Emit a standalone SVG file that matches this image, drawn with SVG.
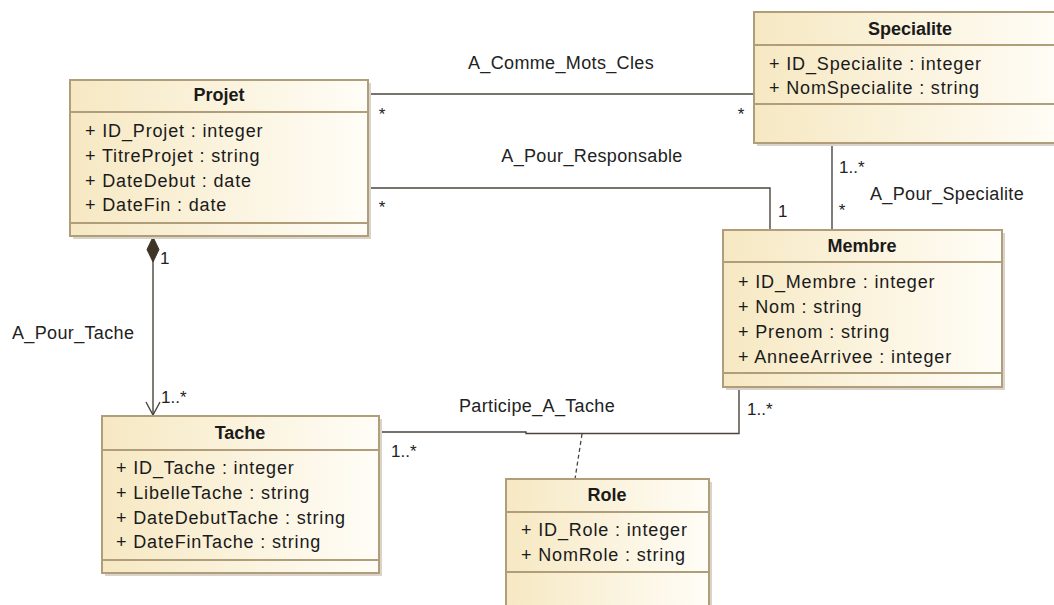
<svg xmlns="http://www.w3.org/2000/svg" width="1054" height="605" viewBox="0 0 1054 605">
<defs>
<linearGradient id="g" x1="0" y1="0" x2="1" y2="0">
<stop offset="0" stop-color="#f6e8c2"/>
<stop offset="1" stop-color="#fffdf7"/>
</linearGradient>
<style>
.box{fill:url(#g);stroke:#b09d7a;stroke-width:2}
.sh{fill:#d9d3c9}
.sep{stroke:#b09d7a;stroke-width:2}
.t{font-family:"Liberation Sans",Arial,sans-serif;font-size:18px;font-weight:bold;fill:#1a1a1a;text-anchor:middle}
.a{font-family:"Liberation Sans",Arial,sans-serif;font-size:18px;fill:#1a1a1a;letter-spacing:0.85px}
.l{font-family:"Liberation Sans",Arial,sans-serif;font-size:18px;fill:#222;letter-spacing:0.35px}
.lm{text-anchor:middle}
.m{font-family:"Liberation Sans",Arial,sans-serif;font-size:17px;fill:#222}
.mm{text-anchor:middle}
.c{fill:none;stroke:#4a443c;stroke-width:1.4}
.d{fill:none;stroke:#4a443c;stroke-width:1.3;stroke-dasharray:4 3}
</style>
</defs>
<rect width="1054" height="605" fill="#ffffff"/>

<g id="connectors">
  <path class="c" d="M370 94 H754"/>
  <path class="c" d="M370 188 H770 V230"/>
  <path class="c" d="M832 143 V230"/>
  <path class="c" d="M153 250 V415"/>
  <path d="M153 237 L159 249.5 L153 262 L147 249.5 Z" fill="#3e3528" stroke="#3e3528" stroke-width="1"/>
  <path class="c" d="M146 402 L153 415 L160 402"/>
  <path class="c" d="M380 432 H526 V433.5 H739 V387"/>
  <path class="d" d="M582 434 L575 479"/>
  <text class="l lm" x="561" y="69">A_Comme_Mots_Cles</text>
  <text class="m mm" x="382" y="120">*</text>
  <text class="m mm" x="741" y="120">*</text>
  <text class="l lm" x="592" y="162">A_Pour_Responsable</text>
  <text class="m mm" x="382" y="213">*</text>
  <text class="m" x="778" y="217">1</text>
  <text class="m" x="839" y="173">1..*</text>
  <text class="m mm" x="842" y="216">*</text>
  <text class="l" x="870" y="200">A_Pour_Specialite</text>
  <text class="m" x="160" y="264">1</text>
  <text class="m" x="161" y="403">1..*</text>
  <text class="l" x="12" y="339">A_Pour_Tache</text>
  <text class="l" x="459" y="412">Participe_A_Tache</text>
  <text class="m" x="391" y="457">1..*</text>
  <text class="m" x="747" y="415">1..*</text>
</g>

<g id="Projet">
  <rect class="sh" x="73" y="83" width="298" height="156"/>
  <rect class="box" x="70" y="80" width="298" height="156"/>
  <line class="sep" x1="70" y1="112" x2="368" y2="112"/>
  <line class="sep" x1="70" y1="223" x2="368" y2="223"/>
  <text class="t" x="219" y="101">Projet</text>
  <text class="a" x="85" y="137">+ ID_Projet : integer</text>
  <text class="a" x="85" y="162">+ TitreProjet : string</text>
  <text class="a" x="85" y="187">+ DateDebut : date</text>
  <text class="a" x="85" y="211">+ DateFin : date</text>
</g>

<g id="Specialite">
  <rect class="sh" x="757" y="15" width="310" height="131"/>
  <rect class="box" x="754" y="12" width="310" height="131"/>
  <line class="sep" x1="754" y1="45" x2="1064" y2="45"/>
  <line class="sep" x1="754" y1="104" x2="1064" y2="104"/>
  <text class="t" x="910" y="35">Specialite</text>
  <text class="a" x="769" y="70">+ ID_Specialite : integer</text>
  <text class="a" x="769" y="94">+ NomSpecialite : string</text>
</g>

<g id="Membre">
  <rect class="sh" x="726" y="233" width="279" height="157"/>
  <rect class="box" x="723" y="230" width="279" height="157"/>
  <line class="sep" x1="723" y1="262" x2="1002" y2="262"/>
  <line class="sep" x1="723" y1="373" x2="1002" y2="373"/>
  <text class="t" x="862" y="252">Membre</text>
  <text class="a" x="738" y="288">+ ID_Membre : integer</text>
  <text class="a" x="738" y="313">+ Nom : string</text>
  <text class="a" x="738" y="338">+ Prenom : string</text>
  <text class="a" x="738" y="363">+ AnneeArrivee : integer</text>
</g>

<g id="Tache">
  <rect class="sh" x="105" y="419" width="277" height="157"/>
  <rect class="box" x="102" y="416" width="277" height="157"/>
  <line class="sep" x1="102" y1="450" x2="379" y2="450"/>
  <line class="sep" x1="102" y1="560" x2="379" y2="560"/>
  <text class="t" x="240" y="439">Tache</text>
  <text class="a" x="116" y="474">+ ID_Tache : integer</text>
  <text class="a" x="116" y="499">+ LibelleTache : string</text>
  <text class="a" x="116" y="524">+ DateDebutTache : string</text>
  <text class="a" x="116" y="548">+ DateFinTache : string</text>
</g>

<g id="Role">
  <rect class="sh" x="509" y="482" width="203" height="140"/>
  <rect class="box" x="506" y="479" width="203" height="140"/>
  <line class="sep" x1="506" y1="512" x2="709" y2="512"/>
  <line class="sep" x1="506" y1="572" x2="709" y2="572"/>
  <text class="t" x="607" y="501">Role</text>
  <text class="a" x="521" y="536">+ ID_Role : integer</text>
  <text class="a" x="521" y="561">+ NomRole : string</text>
</g>
</svg>
